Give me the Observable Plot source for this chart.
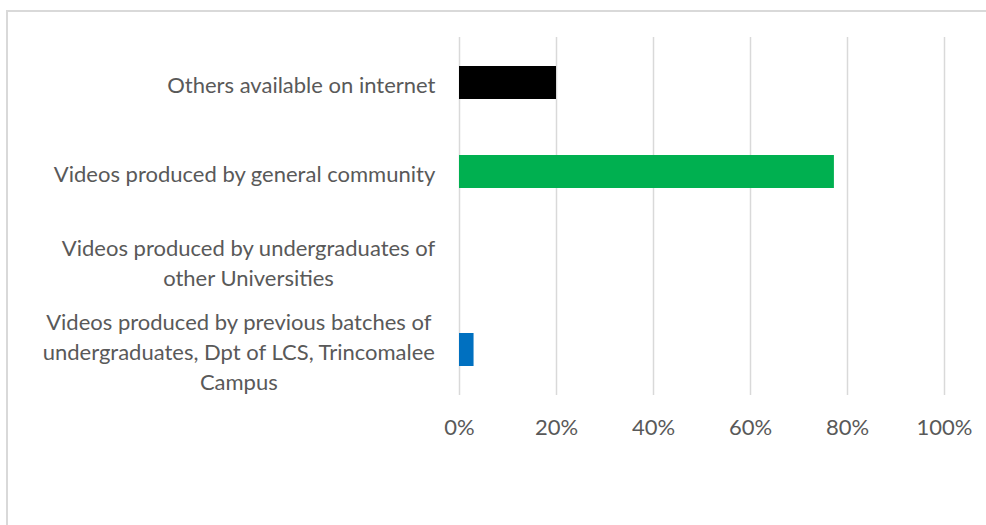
<!DOCTYPE html>
<html>
<head>
<meta charset="utf-8">
<script src="https://cdn.jsdelivr.net/npm/d3@7"></script>
<script src="https://cdn.jsdelivr.net/npm/@observablehq/plot@0.6"></script>
<style>
  html, body { margin: 0; padding: 0; background: #fff; overflow: hidden; width: 986px; height: 525px; }
  #frame { position: absolute; left: 6px; top: 10px; width: 1100px; height: 700px; border: 2px solid #d9d9d9; box-sizing: border-box; }
  #chart { position: absolute; left: 0; top: 0; }
</style>
</head>
<body>
<div id="frame"></div>
<div id="chart"></div>
<script>
const categories = [
  "Others available on internet",
  "Videos produced by general community",
  "Videos produced by undergraduates of\nother Universities",
  "Videos produced by previous batches of\nundergraduates, Dpt of LCS, Trincomalee\nCampus"
];
const values = [0.20, 0.773, 0, 0.03];
const barColors = ["#000000", "#00B050", "#FFC000", "#0070C0"];
const xTicks = [0, 0.2, 0.4, 0.6, 0.8, 1.0];

const FONT = "Lato, 'Open Sans', sans-serif";
const FS = 22;
const data = categories.map((c, i) => ({category: c, value: values[i], color: barColors[i]}));

const ctx = document.createElement("canvas").getContext("2d");
ctx.font = `${FS}px Lato`;
const maxW = c => Math.max(...c.split("\n").map(l => ctx.measureText(l).width));

const labelMarks = data.map(d => Plot.text([d], {
  x: () => 0, y: "category", text: "category",
  textAnchor: "middle", lineAnchor: "middle", lineHeight: 1.37,
  dx: -(24 + maxW(d.category) / 2),
  fill: "#595959", fontSize: FS
}));

const chart = Plot.plot({
  width: 986, height: 525,
  marginTop: 37, marginBottom: 130, marginLeft: 459, marginRight: 42,
  style: {fontFamily: FONT, background: "transparent"},
  x: {domain: [0, 1]},
  y: {domain: categories, padding: 0, axis: null},
  marks: [
    Plot.gridX(xTicks, {stroke: "#d9d9d9", strokeOpacity: 1, strokeWidth: 1.5}),
    Plot.barX(data, {x: "value", y: "category", fill: "color", insetTop: 28, insetBottom: 28}),
    Plot.axisX(xTicks, {tickSize: 0, tickPadding: 24, tickFormat: d3.format(".0%"), fontSize: FS, fill: "#595959", label: null}),
    ...labelMarks
  ]
});
document.getElementById("chart").appendChild(chart);
</script>
</body>
</html>
